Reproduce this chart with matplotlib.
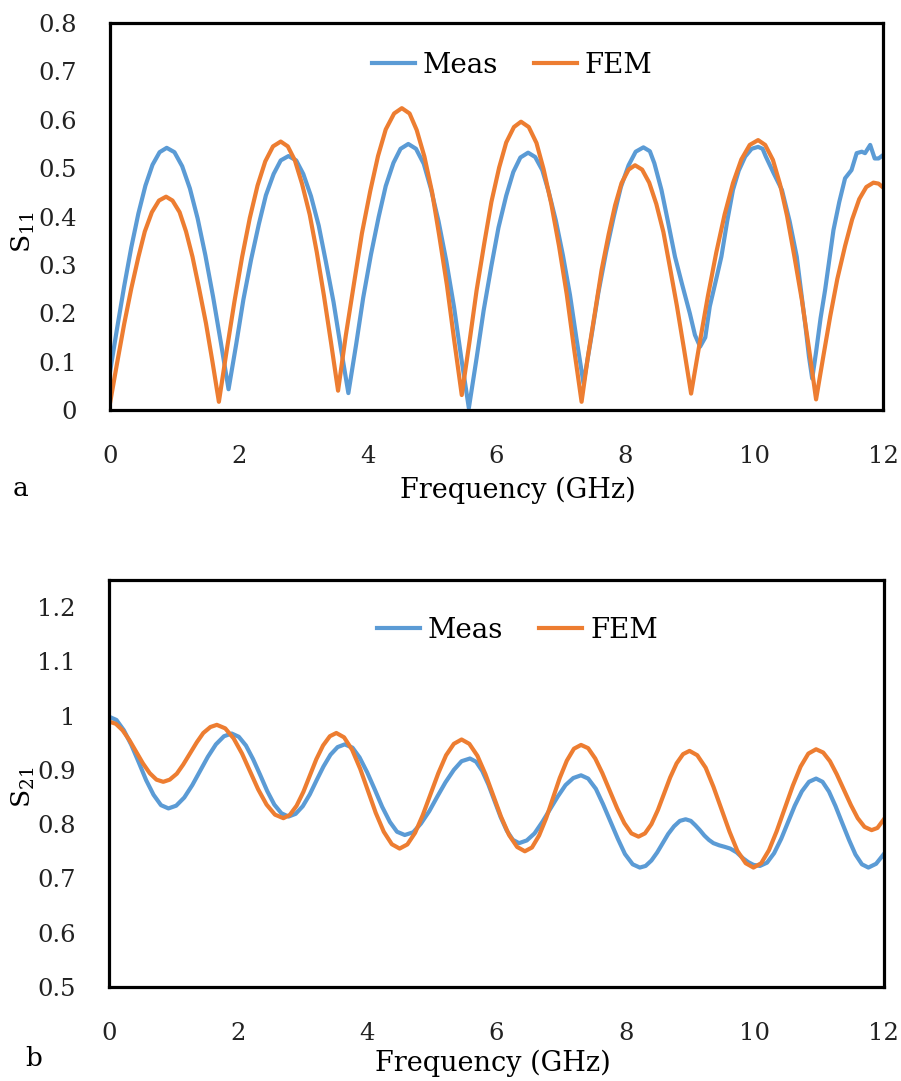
import matplotlib.pyplot as plt

plt.rcParams['font.family'] = 'DejaVu Serif'
plt.rcParams['mathtext.fontset'] = 'dejavuserif'

BLUE = '#5B9BD5'
ORANGE = '#ED7D31'

# (a) reflection |S11|
f11_meas = [0.00, 0.11, 0.22, 0.33, 0.44, 0.55, 0.66, 0.77, 0.88,
            1.00, 1.12, 1.24, 1.36, 1.48, 1.60, 1.72, 1.84,
            1.96, 2.07, 2.19, 2.31, 2.42, 2.54, 2.65, 2.77,
            2.89, 3.00, 3.12, 3.24, 3.35, 3.47, 3.58, 3.70,
            3.82, 3.93, 4.05, 4.17, 4.28, 4.40, 4.51, 4.63,
            4.75, 4.87, 4.98, 5.10, 5.22, 5.34, 5.45, 5.57,
            5.69, 5.80, 5.92, 6.03, 6.15, 6.26, 6.37, 6.49,
            6.60, 6.71, 6.81, 6.92, 7.03, 7.14, 7.24, 7.35,
            7.47, 7.58, 7.70, 7.82, 7.93, 8.05, 8.16, 8.28,
            8.38, 8.45, 8.56, 8.66, 8.77, 8.88, 9.00, 9.08, 9.16, 9.24,
            9.31, 9.40, 9.49, 9.58, 9.67, 9.76, 9.86, 9.96, 10.06, 10.13, 10.18,
            10.30, 10.43, 10.55, 10.66, 10.79, 10.85, 10.90,
            10.96, 11.03, 11.10, 11.23, 11.32, 11.41, 11.51, 11.59, 11.67, 11.72,
            11.80, 11.87, 11.93, 11.98]
s11_meas = [0.079, 0.169, 0.256, 0.336, 0.406, 0.464, 0.507, 0.533, 0.542,
            0.533, 0.504, 0.458, 0.396, 0.320, 0.234, 0.140, 0.043,
            0.137, 0.228, 0.311, 0.384, 0.444, 0.488, 0.516, 0.525,
            0.516, 0.488, 0.442, 0.381, 0.307, 0.223, 0.131, 0.035,
            0.135, 0.232, 0.321, 0.399, 0.463, 0.511, 0.540, 0.550,
            0.540, 0.509, 0.458, 0.390, 0.308, 0.213, 0.110, 0.004,
            0.107, 0.206, 0.298, 0.377, 0.443, 0.492, 0.522, 0.532,
            0.523, 0.496, 0.451, 0.392, 0.320, 0.238, 0.148, 0.055,
            0.150, 0.242, 0.326, 0.400, 0.461, 0.506, 0.534, 0.543,
            0.535, 0.510, 0.455, 0.390, 0.317, 0.260, 0.200, 0.155, 0.131, 0.150,
            0.214, 0.265, 0.317, 0.390, 0.455, 0.495, 0.524, 0.540, 0.544, 0.540, 0.524,
            0.490, 0.455, 0.390, 0.317, 0.179, 0.110, 0.065,
            0.120, 0.190, 0.248, 0.372, 0.430, 0.479, 0.496, 0.531, 0.534, 0.531,
            0.548, 0.520, 0.520, 0.525]

f11_fem = [0.00, 0.11, 0.22, 0.33, 0.44, 0.54, 0.65, 0.76, 0.87,
           0.97, 1.08, 1.18, 1.28, 1.38, 1.49, 1.59, 1.69,
           1.81, 1.93, 2.05, 2.17, 2.29, 2.41, 2.53, 2.65,
           2.76, 2.87, 2.98, 3.10, 3.21, 3.32, 3.43, 3.54,
           3.66, 3.79, 3.91, 4.04, 4.16, 4.28, 4.41, 4.53,
           4.65, 4.76, 4.88, 5.00, 5.11, 5.23, 5.34, 5.46,
           5.58, 5.69, 5.81, 5.92, 6.04, 6.15, 6.27, 6.38,
           6.50, 6.62, 6.73, 6.85, 6.97, 7.09, 7.20, 7.32,
           7.42, 7.53, 7.63, 7.74, 7.84, 7.94, 8.05, 8.15,
           8.26, 8.37, 8.48, 8.59, 8.69, 8.80, 8.91, 9.02,
           9.15, 9.28, 9.41, 9.54, 9.67, 9.80, 9.93, 10.06,
           10.17, 10.29, 10.40, 10.51, 10.62, 10.74, 10.85, 10.96,
           11.07, 11.18, 11.29, 11.41, 11.52, 11.63, 11.74, 11.85, 11.93, 12.00]
s11_fem = [0.014, 0.097, 0.178, 0.251, 0.316, 0.369, 0.409, 0.433, 0.441,
           0.433, 0.409, 0.369, 0.317, 0.253, 0.179, 0.100, 0.017,
           0.122, 0.223, 0.316, 0.397, 0.464, 0.514, 0.545, 0.555,
           0.545, 0.516, 0.468, 0.404, 0.326, 0.237, 0.140, 0.040,
           0.154, 0.264, 0.365, 0.453, 0.525, 0.580, 0.613, 0.624,
           0.613, 0.579, 0.524, 0.450, 0.361, 0.258, 0.147, 0.031,
           0.141, 0.247, 0.345, 0.430, 0.501, 0.553, 0.585, 0.596,
           0.585, 0.552, 0.498, 0.426, 0.339, 0.239, 0.130, 0.017,
           0.112, 0.204, 0.289, 0.363, 0.423, 0.469, 0.497, 0.506,
           0.497, 0.470, 0.426, 0.368, 0.296, 0.215, 0.126, 0.034,
           0.136, 0.235, 0.325, 0.404, 0.469, 0.518, 0.548, 0.558,
           0.548, 0.517, 0.467, 0.401, 0.320, 0.227, 0.127, 0.022,
           0.109, 0.194, 0.271, 0.339, 0.394, 0.436, 0.461, 0.470, 0.468, 0.460]

# (b) transmission |S21|
f21_meas = [0.00, 0.115, 0.23, 0.345, 0.46, 0.575, 0.69, 0.805, 0.92,
            1.04, 1.165, 1.29, 1.41, 1.53, 1.655, 1.78, 1.90,
            2.01, 2.12, 2.23, 2.34, 2.45, 2.56, 2.67, 2.78,
            2.89, 3.00, 3.11, 3.215, 3.32, 3.43, 3.54, 3.65,
            3.77, 3.88, 4.00, 4.115, 4.23, 4.35, 4.46, 4.58,
            4.71, 4.83, 4.96, 5.085, 5.21, 5.34, 5.46, 5.59,
            5.685, 5.78, 5.875, 5.97, 6.065, 6.16, 6.255, 6.35,
            6.47, 6.59, 6.71, 6.83, 6.95, 7.07, 7.19, 7.31,
            7.42, 7.54, 7.65, 7.765, 7.88, 7.99, 8.11, 8.22,
            8.31, 8.40, 8.49, 8.575, 8.66, 8.75, 8.84, 8.93,
            9.01, 9.08, 9.15, 9.22, 9.29, 9.36, 9.45, 9.54, 9.62, 9.72, 9.82, 9.90, 9.98, 10.08,
            10.19, 10.30, 10.41, 10.515, 10.62, 10.73, 10.84, 10.95,
            11.05, 11.15, 11.25, 11.355, 11.46, 11.56, 11.66, 11.76, 11.88, 12.00]
s21_meas = [0.998, 0.992, 0.973, 0.946, 0.914, 0.881, 0.854, 0.835, 0.829,
            0.834, 0.849, 0.872, 0.898, 0.924, 0.947, 0.962, 0.967,
            0.961, 0.945, 0.920, 0.891, 0.861, 0.836, 0.820, 0.814,
            0.819, 0.833, 0.855, 0.881, 0.906, 0.928, 0.942, 0.947,
            0.941, 0.923, 0.895, 0.864, 0.832, 0.804, 0.786, 0.780,
            0.785, 0.801, 0.824, 0.851, 0.877, 0.900, 0.916, 0.921,
            0.915, 0.898, 0.873, 0.843, 0.813, 0.788, 0.771, 0.765,
            0.770, 0.783, 0.804, 0.8275, 0.851, 0.872, 0.885, 0.890,
            0.884, 0.865, 0.837, 0.805, 0.773, 0.745, 0.726, 0.720,
            0.723, 0.733, 0.748, 0.765, 0.782, 0.796, 0.806, 0.809,
            0.806, 0.798, 0.789, 0.779, 0.771, 0.765, 0.761, 0.758, 0.755, 0.748, 0.737, 0.730, 0.725, 0.723,
            0.729, 0.7465, 0.773, 0.8035, 0.834, 0.8605, 0.878, 0.884,
            0.878, 0.860, 0.8335, 0.802, 0.771, 0.744, 0.726, 0.720, 0.727, 0.745]

f21_fem = [0.00, 0.105, 0.21, 0.315, 0.42, 0.525, 0.63, 0.735, 0.84,
           0.94, 1.05, 1.15, 1.255, 1.36, 1.46, 1.57, 1.67,
           1.80, 1.93, 2.06, 2.185, 2.31, 2.44, 2.57, 2.70,
           2.80, 2.905, 3.01, 3.11, 3.21, 3.315, 3.42, 3.52,
           3.64, 3.765, 3.89, 4.01, 4.13, 4.255, 4.38, 4.50,
           4.62, 4.74, 4.86, 4.98, 5.10, 5.22, 5.34, 5.46,
           5.58, 5.705, 5.83, 5.95, 6.07, 6.195, 6.32, 6.44,
           6.55, 6.66, 6.77, 6.875, 6.98, 7.09, 7.20, 7.31,
           7.42, 7.53, 7.64, 7.755, 7.87, 7.98, 8.09, 8.20,
           8.30, 8.40, 8.50, 8.595, 8.69, 8.79, 8.89, 8.99,
           9.11, 9.24, 9.36, 9.485, 9.61, 9.73, 9.86, 9.98,
           10.10, 10.22, 10.34, 10.465, 10.59, 10.71, 10.83, 10.95,
           11.06, 11.165, 11.27, 11.38, 11.49, 11.595, 11.70, 11.81, 11.90, 12.00]
s21_fem = [0.989, 0.985, 0.973, 0.955, 0.9335, 0.912, 0.894, 0.882, 0.878,
           0.882, 0.893, 0.910, 0.9305, 0.951, 0.968, 0.979, 0.983,
           0.9765, 0.958, 0.930, 0.897, 0.864, 0.836, 0.8175, 0.811,
           0.817, 0.834, 0.8595, 0.8895, 0.9195, 0.945, 0.962, 0.968,
           0.960, 0.937, 0.902, 0.8615, 0.821, 0.786, 0.763, 0.755,
           0.7626, 0.784, 0.817, 0.8555, 0.894, 0.927, 0.948, 0.956,
           0.948, 0.926, 0.892, 0.853, 0.814, 0.780, 0.758, 0.750,
           0.757, 0.779, 0.811, 0.848, 0.885, 0.917, 0.939, 0.946,
           0.940, 0.921, 0.894, 0.8615, 0.829, 0.802, 0.783, 0.777,
           0.783, 0.800, 0.826, 0.856, 0.886, 0.912, 0.929, 0.935,
           0.927, 0.904, 0.869, 0.8275, 0.786, 0.751, 0.728, 0.720,
           0.728, 0.752, 0.787, 0.829, 0.871, 0.906, 0.930, 0.938,
           0.932, 0.916, 0.892, 0.8635, 0.835, 0.811, 0.795, 0.789, 0.793, 0.809]

x_ticks = [0, 2, 4, 6, 8, 10, 12]
y11_ticks = [0, 0.1, 0.2, 0.3, 0.4, 0.5, 0.6, 0.7, 0.8]
y11_labels = ['0', '0.1', '0.2', '0.3', '0.4', '0.5', '0.6', '0.7', '0.8']
y21_ticks = [0.5, 0.6, 0.7, 0.8, 0.9, 1.0, 1.1, 1.2]
y21_labels = ['0.5', '0.6', '0.7', '0.8', '0.9', '1', '1.1', '1.2']

fig = plt.figure(figsize=(9.01, 10.81), dpi=100)
ax1 = fig.add_axes([0.1221, 0.6207, 0.858, 0.358])
ax2 = fig.add_axes([0.1210, 0.0870, 0.860, 0.3765])


def style(ax, yticks, ylabels, ylim):
    ax.set_xlim(0, 12)
    ax.set_ylim(*ylim)
    ax.set_xticks(x_ticks)
    ax.set_yticks(yticks)
    ax.set_yticklabels(ylabels)
    ax.tick_params(length=0, labelsize=17.5, colors='#222222')
    ax.tick_params(axis='y', pad=24)
    ax.tick_params(axis='x', pad=25)
    for sp in ax.spines.values():
        sp.set_linewidth(2.3)
        sp.set_color('black')
        sp.set_zorder(5)


LW = 3.0
leg_kw = dict(loc='center', ncol=2, frameon=False, fontsize=20,
              handlelength=1.55, handletextpad=0.28, columnspacing=1.3)

ax1.plot(f11_meas, s11_meas, color=BLUE, lw=LW, label='Meas', solid_joinstyle='round')
ax1.plot(f11_fem, s11_fem, color=ORANGE, lw=LW, label='FEM', solid_joinstyle='round')
style(ax1, y11_ticks, y11_labels, (0, 0.8))
ax1.set_ylabel('S$_{11}$', fontsize=19)
ax1.yaxis.set_label_coords(-0.095, 0.46)
ax1.legend(bbox_to_anchor=(0.52, 0.891), **leg_kw)

ax2.plot(f21_meas, s21_meas, color=BLUE, lw=LW, label='Meas', solid_joinstyle='round')
ax2.plot(f21_fem, s21_fem, color=ORANGE, lw=LW, label='FEM', solid_joinstyle='round')
style(ax2, y21_ticks, y21_labels, (0.5, 1.25))
ax2.set_ylabel('S$_{21}$', fontsize=19)
ax2.yaxis.set_label_coords(-0.093, 0.49)
ax2.legend(bbox_to_anchor=(0.527, 0.877), **leg_kw)

fig.text(518 / 901, 1 - 490 / 1081, 'Frequency (GHz)', fontsize=19.5, ha='center', va='center')
fig.text(493 / 901, 1 - 1063 / 1081, 'Frequency (GHz)', fontsize=19.5, ha='center', va='center')
fig.text(21 / 901, 1 - 488 / 1081, 'a', fontsize=19, ha='center', va='center')
fig.text(34 / 901, 1 - 1059 / 1081, 'b', fontsize=19, ha='center', va='center')

fig.savefig('out.png', dpi=100)
